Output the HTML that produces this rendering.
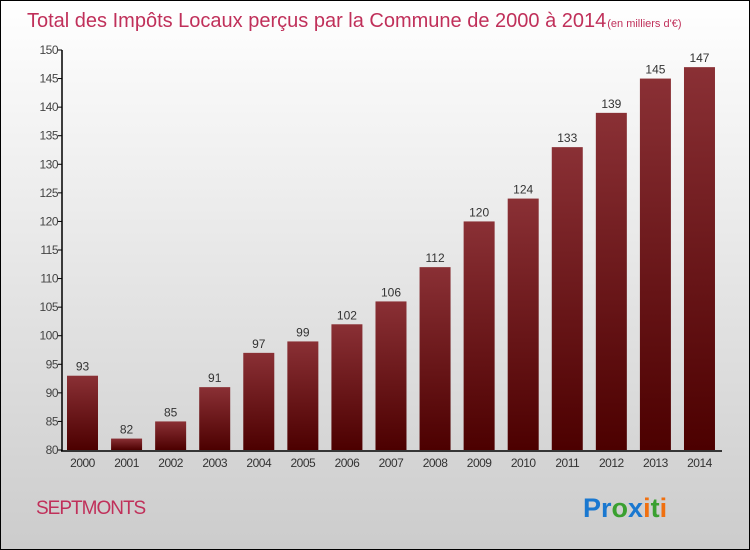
<!DOCTYPE html>
<html><head><meta charset="utf-8"><style>
body{margin:0;}
#c{width:748px;height:548px;border:1px solid #000;background:linear-gradient(#fff,#ccc);position:relative;font-family:"Liberation Sans",sans-serif;overflow:hidden}
</style></head><body>
<div id="c">
<svg id="s" width="748" height="548">
<defs><linearGradient id="g" x1="0" y1="0" x2="0" y2="1"><stop offset="0" stop-color="#8a3035"/><stop offset="1" stop-color="#4c0000"/></linearGradient></defs>
<text x="26" y="26" font-size="20" fill="#c0305a">Total des Impôts Locaux perçus par la Commune de 2000 à 2014<tspan font-size="11" dx="1">(en milliers d'€)</tspan></text>
<text x="35" y="513" font-size="19" fill="#c0305a" letter-spacing="-1">SEPTMONTS</text>
<text x="582" y="516" font-size="27" font-weight="bold"><tspan fill="#1a78d0">Pr</tspan><tspan fill="#3aa030">o</tspan><tspan fill="#1a78d0">x</tspan><tspan fill="#f07010">i</tspan><tspan fill="#3aa030">t</tspan><tspan fill="#f07010">i</tspan></text>
<g id="plot"></g>
</svg></div>
<script>
const years=["2000","2001","2002","2003","2004","2005","2006","2007","2008","2009","2010","2011","2012","2013","2014"];
const values=[93,82,85,91,97,99,102,106,112,120,124,133,139,145,147];
const yTicks=[80,85,90,95,100,105,110,115,120,125,130,135,140,145,150];
const ns="http://www.w3.org/2000/svg",p=document.getElementById('plot');
const y0=449,y1=49,vmin=80,vmax=150;
const yS=v=>y0-(v-vmin)/(vmax-vmin)*(y0-y1);
const xS=i=>66+i*44.07;
function mk(t,a,txt){const e=document.createElementNS(ns,t);for(const k in a)e.setAttribute(k,a[k]);if(txt!=null)e.textContent=txt;p.appendChild(e);return e;}
yTicks.forEach(v=>{
 let l=mk('line',{x1:57,x2:61,y1:yS(v),y2:yS(v),stroke:'#000'});
 
 
 let t=mk('text',{x:57,y:yS(v)+4,'font-size':12,fill:'#444','text-anchor':'end','letter-spacing':'-0.5'},v);
 
 
});
values.forEach((v,i)=>{
 let r=mk('rect',{x:xS(i),y:yS(v),width:31,height:y0-yS(v),fill:'url(#g)'});
 
 
 let t=mk('text',{x:xS(i)+15.5,y:yS(v)-5,'font-size':12,fill:'#333','text-anchor':'middle'},v);
 
 
 let xl=mk('text',{x:xS(i)+15.5,y:466,'font-size':12,fill:'#333','text-anchor':'middle','letter-spacing':'-0.5'},years[i]);
 
 
});
let ya=mk('line',{x1:61,x2:61,y1:49,y2:450,stroke:'#000','stroke-width':1.5});


let xa=mk('line',{x1:60,x2:721,y1:450,y2:450,stroke:'#000','stroke-width':1.5});


</script>
</body></html>
